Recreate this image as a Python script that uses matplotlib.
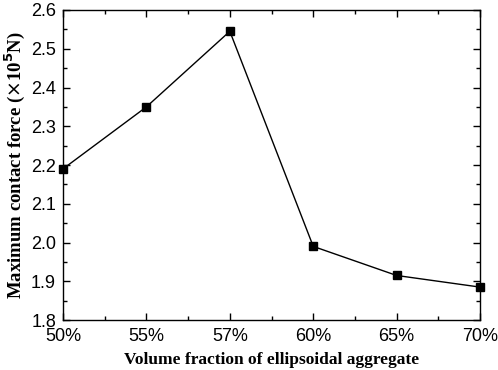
import numpy as np
import matplotlib.pyplot as plt
from matplotlib.ticker import MultipleLocator, AutoMinorLocator

fractions = ["50%", "55%", "57%", "60%", "65%", "70%"]
force = [2.19, 2.35, 2.545, 1.99, 1.915, 1.885]

fig = plt.figure(figsize=(4.98, 3.70), dpi=100)
ax = fig.add_axes([0.1265, 0.135, 0.8375, 0.838])

x = np.arange(len(fractions))
ax.plot(x, force, color="black", lw=1.0, marker="s", markersize=5.5,
        markerfacecolor="black", markeredgecolor="black", clip_on=False, zorder=3)

ax.set_xlim(0, len(fractions) - 1)
ax.set_ylim(1.8, 2.6)
ax.set_xticks(x)
ax.set_xticklabels(fractions)
ax.xaxis.set_minor_locator(MultipleLocator(0.5))
ax.yaxis.set_major_locator(MultipleLocator(0.1))
ax.yaxis.set_minor_locator(AutoMinorLocator(2))

ax.tick_params(which="both", direction="in", top=True, right=True, width=1.0)
ax.tick_params(which="major", length=5, labelsize=13)
ax.tick_params(axis="x", which="major", pad=6)
ax.tick_params(axis="y", which="major", pad=5)
ax.tick_params(which="minor", length=3)
for lab in ax.get_xticklabels() + ax.get_yticklabels():
    lab.set_family("Liberation Sans")
for s in ax.spines.values():
    s.set_linewidth(1.0)

ax.set_xlabel("Volume fraction of ellipsoidal aggregate", fontsize=12.5,
              fontweight="bold", family="Liberation Serif", labelpad=5)
ax.set_ylabel(r"Maximum contact force ($\times$10$^{\mathbf{5}}$N)", fontsize=13.5,
              fontweight="bold", family="Liberation Serif", labelpad=3)

fig.savefig("out.png", dpi=100)
